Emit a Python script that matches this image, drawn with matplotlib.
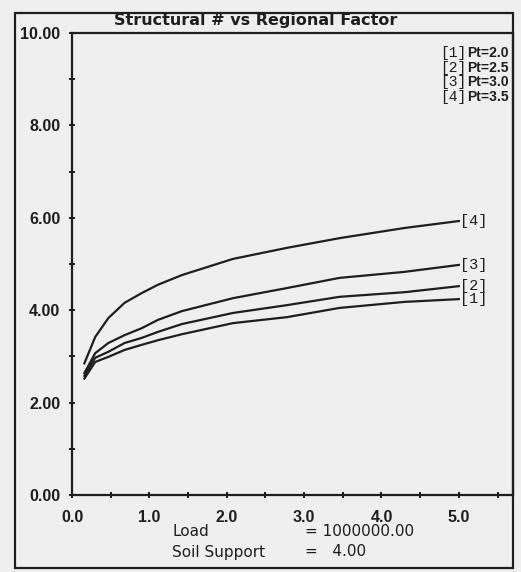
import matplotlib
matplotlib.use("Agg")
import matplotlib.pyplot as plt
from matplotlib.patches import Rectangle
from matplotlib.ticker import MultipleLocator, FixedLocator

# ---- data ----
regional_factor = [0.16, 0.30, 0.47, 0.68, 0.90, 1.11, 1.42, 2.08, 2.78, 3.46, 4.30, 5.0]
sn_pt20 = [2.52, 2.88, 2.99, 3.14, 3.25, 3.35, 3.48, 3.72, 3.85, 4.05, 4.18, 4.24]
sn_pt25 = [2.58, 2.97, 3.10, 3.29, 3.40, 3.53, 3.70, 3.94, 4.11, 4.29, 4.39, 4.52]
sn_pt30 = [2.64, 3.07, 3.29, 3.46, 3.61, 3.79, 3.98, 4.26, 4.48, 4.70, 4.83, 4.98]
sn_pt35 = [2.85, 3.42, 3.83, 4.16, 4.37, 4.55, 4.76, 5.11, 5.35, 5.56, 5.78, 5.93]
series = [sn_pt20, sn_pt25, sn_pt30, sn_pt35]
curve_tags = ["[1]", "[2]", "[3]", "[4]"]
legend_values = ["Pt=2.0", "Pt=2.5", "Pt=3.0", "Pt=3.5"]
x_tick_labels = ["0.0", "1.0", "2.0", "3.0", "4.0", "5.0"]
y_tick_labels = ["0.00", "2.00", "4.00", "6.00", "8.00", "10.00"]
title = "Structural # vs Regional Factor"
load_label, load_value = "Load", "= 1000000.00"
soil_label, soil_value = "Soil Support", "=   4.00"

W, H = 521, 572
bg = "#efefef"
ink = "#1e1e1e"

fig = plt.figure(figsize=(W / 100, H / 100), dpi=100, facecolor=bg)

def fx(px):
    return px / W

def fy(py):
    return 1 - py / H

# outer frame
fig.patches.append(Rectangle((fx(15), fy(568)), fx(513) - fx(15), fy(13) - fy(568),
                             transform=fig.transFigure, fill=False, lw=1.6,
                             edgecolor=ink, zorder=0))

ax = fig.add_axes([fx(72), fy(495), fx(513) - fx(72), fy(33) - fy(495)])
ax.set_facecolor(bg)
ax.set_xlim(0, 5.70)
ax.set_ylim(0, 10)

for s in ax.spines.values():
    s.set_linewidth(1.6)
    s.set_color(ink)

for ys, tag in zip(series, curve_tags):
    ax.plot(regional_factor, ys, color=ink, lw=1.6, solid_joinstyle="round")
    ax.text(regional_factor[-1] + 0.02, ys[-1], tag, ha="left", va="center",
            fontsize=11, family="Liberation Mono", color=ink)

# ticks
ax.xaxis.set_major_locator(FixedLocator([0, 1, 2, 3, 4, 5]))
ax.set_xticklabels(x_tick_labels)
ax.xaxis.set_minor_locator(MultipleLocator(0.5))
ax.yaxis.set_major_locator(FixedLocator([0, 2, 4, 6, 8, 10]))
ax.set_yticklabels(y_tick_labels)
ax.yaxis.set_minor_locator(MultipleLocator(1))
ax.tick_params(axis="both", which="both", direction="inout", length=5,
               width=1.4, color=ink, labelcolor=ink, labelsize=11.5)
ax.tick_params(axis="x", which="major", pad=8)
ax.tick_params(axis="y", which="major", pad=6)
for lab in ax.get_xticklabels() + ax.get_yticklabels():
    lab.set_fontweight("bold")
    lab.set_family("Liberation Sans")

# title
fig.text(fx(256), fy(21), title, ha="center", va="center", fontsize=11.5,
         fontweight="bold", color=ink)

# legend in upper right
for i, (tag, val) in enumerate(zip(curve_tags, legend_values)):
    yy = fy(53 + i * 14.7)
    fig.text(fx(440), yy, tag, ha="left", va="center", fontsize=10.5,
             family="Liberation Mono", color=ink)
    fig.text(fx(467), yy, val, ha="left", va="center", fontsize=10,
             fontweight="bold", family="Liberation Sans", color=ink)

# bottom annotations
fig.text(fx(172), fy(532), load_label, ha="left", va="center", fontsize=11, color=ink)
fig.text(fx(305), fy(532), load_value, ha="left", va="center", fontsize=11, color=ink)
fig.text(fx(172), fy(552), soil_label, ha="left", va="center", fontsize=11, color=ink)
fig.text(fx(305), fy(552), soil_value, ha="left", va="center", fontsize=11, color=ink)

fig.savefig("out.png", dpi=100, facecolor=bg)
